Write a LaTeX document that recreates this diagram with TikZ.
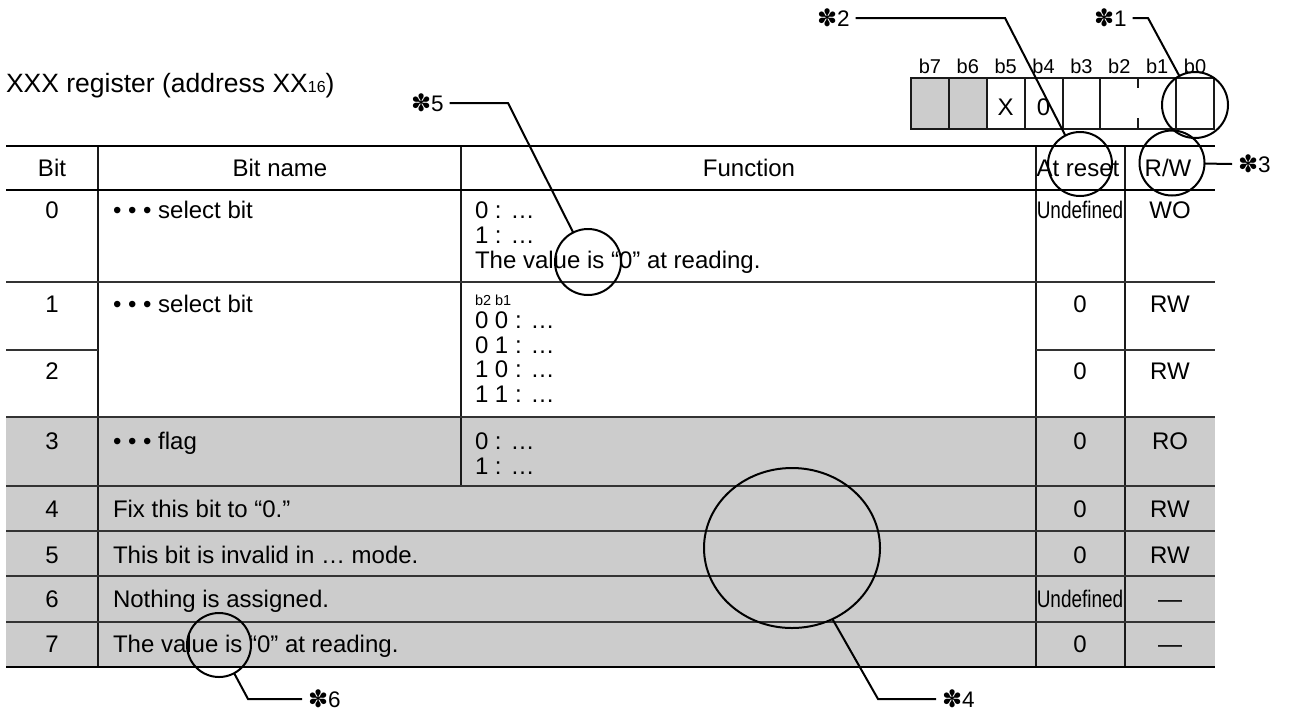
\documentclass[tikz,border=0pt]{standalone}
\usepackage{fontspec}
\usetikzlibrary{shapes.geometric}
\setmainfont{Liberation Sans}
\newfontfamily\symfont{DejaVu Sans}
\definecolor{cellgray}{HTML}{CCCCCC}
\definecolor{rulegray}{HTML}{333333}
\definecolor{regline}{HTML}{1A1A1A}
\newcommand\refast{{\symfont\fontsize{24}{26}\selectfont ✽}}
\newcommand\undef{\scalebox{0.79}[1]{Undefined}}
\begin{document}
\begin{tikzpicture}[x=1pt,y=-1pt,
  every node/.style={inner sep=0pt,outer sep=0pt},
  body/.style={font=\fontsize{24}{27}\selectfont},
  smalltxt/.style={font=\fontsize{14.5}{16}\selectfont},
  bitlbl/.style={font=\fontsize{20}{22}\selectfont},
  titletxt/.style={font=\fontsize{26.5}{30}\selectfont},
  refmark/.style={font=\fontsize{22.5}{25}\selectfont, text height=16pt, text depth=0pt, inner xsep=6pt},
  thickrule/.style={line width=2.6pt, draw=black},
  thinrule/.style={line width=1.3pt, draw=rulegray},
  vrule/.style={line width=1.3pt, draw=regline},
  hl/.style={draw=black, line width=2pt, circle},
  leader/.style={line width=2pt, draw=black},
  regbox/.style={line width=2pt, draw=regline},
  cellc/.style={body, anchor=base},
  cellw/.style={body, anchor=base west},
]
\useasboundingbox (0,0) rectangle (1289,713);

% ---- title
\node[titletxt, anchor=base west] (title) at (6,92) {XXX register (address XX{\fontsize{16}{18}\selectfont 16})};

% ---- register bit diagram
\fill[cellgray] (911,78) rectangle (986.75,129);
\draw[regbox] (911,78) rectangle (1214,129);
\foreach \i in {1,2,3,4,5,7} \draw[regbox] ({911+37.875*\i},78) -- ({911+37.875*\i},129);
\draw[regbox] (1138.25,78) -- (1138.25,88) (1138.25,118) -- (1138.25,129);
\foreach \n [count=\i from 0] in {b7,b6,b5,b4,b3,b2,b1,b0}
  \node[bitlbl, anchor=base] (lbl\i) at ({911+37.875*(\i+0.5)},73) {\n};
\node[body, anchor=base] (vx) at ({911+37.875*2.5},115) {X};
\node[body, anchor=base] (v0) at ({911+37.875*3.5},115) {0};

% ---- table background
\fill[cellgray] (6,417) rectangle (1215,667);

% ---- vertical rules
\draw[vrule] (98,146) -- (98,667);
\draw[vrule] (461,146) -- (461,486);
\draw[vrule] (1036,146) -- (1036,667);
\draw[vrule] (1125,146) -- (1125,667);

% ---- horizontal rules
\draw[thinrule] (6,282) -- (1215,282);
\draw[thinrule] (6,350) -- (98,350);
\draw[thinrule] (1036,350) -- (1215,350);
\foreach \y in {417,486,531,576,622} \draw[thinrule] (6,\y) -- (1215,\y);
\draw[thickrule] (6,146) -- (1215,146);
\draw[thickrule] (6,190) -- (1215,190);
\draw[thickrule] (6,667) -- (1215,667);

% ---- header
\node[cellc] (hbit) at (52,176) {Bit};
\node[cellc] (hname) at (280,176) {Bit name};
\node[cellc] (hfunc) at (749,176) {Function};
\node[cellc] (hreset) at (1078,176) {At reset};
\node[cellc] (hrw) at (1168,176) {R/W};

% ---- row 0
\node[cellc] (r0bit) at (52,218) {0};
\node[cellw] (r0name) at (113,218) {• • • select bit};
\node[cellw] (r0f1) at (475,218) {0 : …};
\node[cellw] (r0f2) at (475,243) {1 : …};
\node[cellw] (r0f3) at (475,268) {The value is “0” at reading.};
\node[cellc] (r0rst) at (1080,218) {\undef};
\node[cellc] (r0rw) at (1170,218) {WO};

% ---- row 1
\node[cellc] (r1bit) at (52,312) {1};
\node[cellw] (r1name) at (113,312) {• • • select bit};
\node[smalltxt, anchor=base west] (r1hdr) at (475,305) {b2 b1};
\node[cellw] (r1f1) at (475,328) {0 0 : …};
\node[cellw] (r1f2) at (475,353) {0 1 : …};
\node[cellw] (r1f3) at (475,377) {1 0 : …};
\node[cellw] (r1f4) at (475,402) {1 1 : …};
\node[cellc] (r1rst) at (1080,312) {0};
\node[cellc] (r1rw) at (1170,312) {RW};

% ---- row 2
\node[cellc] (r2bit) at (52,379) {2};
\node[cellc] (r2rst) at (1080,379) {0};
\node[cellc] (r2rw) at (1170,379) {RW};

% ---- row 3
\node[cellc] (r3bit) at (52,449) {3};
\node[cellw] (r3name) at (113,449) {• • • flag};
\node[cellw] (r3f1) at (475,449) {0 : …};
\node[cellw] (r3f2) at (475,474) {1 : …};
\node[cellc] (r3rst) at (1080,449) {0};
\node[cellc] (r3rw) at (1170,449) {RO};

% ---- rows 4-7
\node[cellc] (r4bit) at (52,517) {4};
\node[cellw] (r4name) at (113,517) {Fix this bit to “0.”};
\node[cellc] (r4rst) at (1080,517) {0};
\node[cellc] (r4rw) at (1170,517) {RW};

\node[cellc] (r5bit) at (52,563) {5};
\node[cellw] (r5name) at (113,563) {This bit is invalid in … mode.};
\node[cellc] (r5rst) at (1080,563) {0};
\node[cellc] (r5rw) at (1170,563) {RW};

\node[cellc] (r6bit) at (52,607) {6};
\node[cellw] (r6name) at (113,607) {Nothing is assigned.};
\node[cellc] (r6rst) at (1080,607) {\undef};
\node[cellc] (r6rw) at (1170,607) {—};

\node[cellc] (r7bit) at (52,652) {7};
\node[cellw] (r7name) at (113,652) {The value is “0” at reading.};
\node[cellc] (r7rst) at (1080,652) {0};
\node[cellc] (r7rw) at (1170,652) {—};

% ---- highlight circles
\node[hl, minimum size=66pt] (c1) at (1195,105) {};
\node[hl, minimum size=64pt] (c2) at (1080,164) {};
\node[hl, minimum size=65pt] (c3) at (1172,163) {};
\node[draw=black, line width=2pt, ellipse, minimum width=176pt, minimum height=160pt] (c4) at (792,548) {};
\node[hl, minimum size=66pt] (c5) at (588,262) {};
\node[hl, minimum size=64pt] (c6) at (219,645) {};

% ---- reference marks
\node[refmark, anchor=west] (s1) at (1088,18) {\refast1};
\node[refmark, anchor=west] (s2) at (811,18) {\refast2};
\node[refmark, anchor=west] (s3) at (1232,164) {\refast3};
\node[refmark, anchor=west] (s4) at (936,699) {\refast4};
\node[refmark, anchor=west] (s5) at (405,103) {\refast5};
\node[refmark, anchor=west] (s6) at (302,699) {\refast6};

\coordinate (k1) at (1148,0);
\coordinate (k2) at (1005,0);
\coordinate (k4) at (878,0);
\coordinate (k5) at (508,0);
\coordinate (k6) at (248,0);

\draw[leader] (s1.east) -- (s1.east -| k1) -- (c1);
\draw[leader] (s2.east) -- (s2.east -| k2) -- (c2);
\draw[leader] (c3) -- (s3.west);
\draw[leader] (s4.west) -- (s4.west -| k4) -- (c4);
\draw[leader] (s5.east) -- (s5.east -| k5) -- (c5);
\draw[leader] (s6.west) -- (s6.west -| k6) -- (c6);
\end{tikzpicture}
\end{document}
